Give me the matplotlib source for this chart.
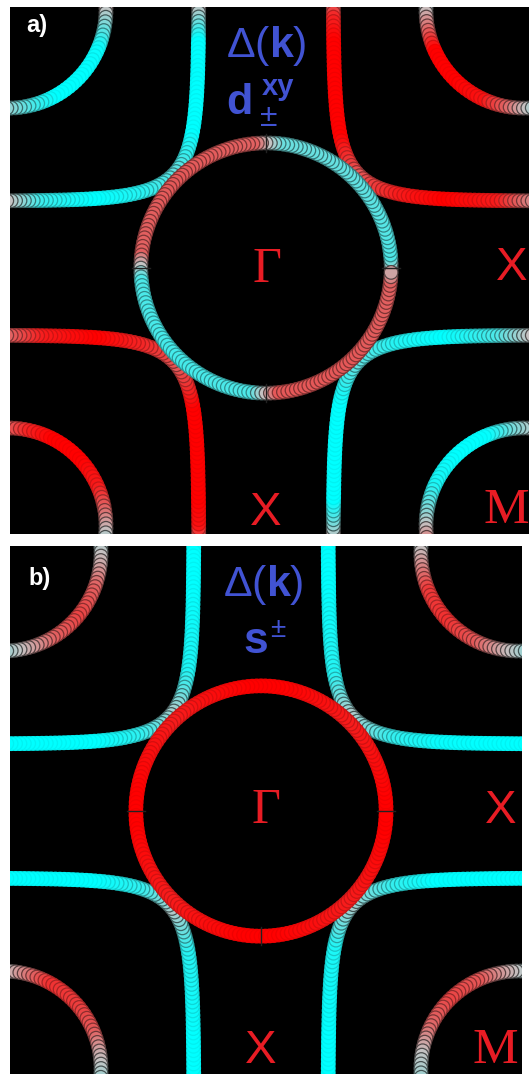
#!/usr/bin/env python3
# -*- coding: utf-8 -*-
"""
Fermi surface with gap sign Delta(k): a) d_xy +-  b) s +-
beads coloured cyan (<0) -> grey (0) -> red (>0)
"""

import numpy as np
import matplotlib
matplotlib.use('Agg')
import matplotlib.pyplot as plt
from matplotlib.colors import LinearSegmentedColormap

plt.rcParams['font.family'] = ['Liberation Sans', 'DejaVu Sans']
plt.rcParams['mathtext.fontset'] = 'custom'
plt.rcParams['mathtext.rm'] = 'Liberation Sans'
plt.rcParams['mathtext.bf'] = 'Liberation Sans:bold'

# ---- geometry, in units of half the zone ----
CIRCLE_R = 0.485
CROSS_X0 = 0.26
CROSS_W = 0.145
ARC_R = 0.38

# ---- gap values read along each sheet ----
# circle around Gamma, by angle (deg, counter clockwise from +x)
CIRCLE_ANG = [0, 6, 45, 84, 90, 96, 135, 174, 180, 186, 225, 264, 270, 276, 315, 354, 360]
A_CIRCLE_GAP = [0, -0.6, -0.5, -0.45, 0, 0.5, 0.55, 0.5, 0, -0.6, -0.65, -0.6, 0, 0.55, 0.55, 0.5, 0]
B_CIRCLE_GAP = [1, 1, 0.85, 1, 1, 1, 0.85, 1, 1, 1, 0.85, 1, 1, 1, 0.85, 1, 1]

# cross sheets: from the vertical arm end (0) to the horizontal arm end (1)
CROSS_POS = [0, 0.05, 0.12, 0.38, 0.5, 0.62, 0.75, 0.9, 1.0]
A_CROSS_TL = [0.3, -0.2, -1, -1, -0.5, -0.8, -1, -0.7, 0.1]
A_CROSS_TR = [0.25, 0.8, 1, 1, 0.55, 0.85, 1, 0.85, 0.25]
A_CROSS_BL = [0.3, 0.9, 1, 1, 0.55, 0.8, 1, 0.85, 0.45]
A_CROSS_BR = [0.35, -0.3, -1, -1, -0.5, -0.8, -1, -0.6, 0.1]
B_CROSS_TL = [-1, -1, -1, -0.85, -0.15, -0.75, -1, -1, -1]
B_CROSS_TR = [-1, -1, -1, -0.8, -0.1, -0.7, -0.95, -1, -1]
B_CROSS_BL = [-1, -1, -1, -0.8, -0.1, -0.75, -1, -1, -1]
B_CROSS_BR = [-1, -1, -1, -0.85, -0.15, -0.7, -1, -1, -1]

# corner pockets around M: from the top/bottom end or left/right end
ARC_POS = [0, 0.15, 0.3, 0.5, 0.7, 0.85, 1.0]
A_ARC_TL = [0.3, -0.3, -0.95, -1, -1, -0.6, -0.2]
A_ARC_TR = [-0.25, 0.35, 1, 1, 0.9, 0.45, -0.2]
A_ARC_BL = [0.4, 0.8, 1, 1, 0.85, 0.4, -0.15]
A_ARC_BR = [0.1, -0.4, -1, -1, -0.85, -0.3, 0.35]
B_ARC_TL = [-0.2, 0.1, 0.5, 0.65, 0.5, 0.15, -0.2]
B_ARC_TR = [-0.2, 0.25, 0.7, 0.75, 0.55, 0.15, -0.25]
B_ARC_BL = [-0.1, 0.35, 0.75, 0.7, 0.55, 0.1, -0.2]
B_ARC_BR = [-0.2, 0.15, 0.55, 0.65, 0.45, 0.0, -0.2]

RED = '#e81c24'
BLUE = '#4153d3'

cmap = LinearSegmentedColormap.from_list(
    'gap', [(0, '#00ffff'), (0.5, '#c4c4c4'), (1, '#ff0000')])


def resample(x, y, xlim, ylim, step=0.017):
    """keep the visible part and put points at even spacing"""
    m = 0.03
    keep = (x > xlim[0] - m) & (x < xlim[1] + m) & (y > ylim[0] - m) & (y < ylim[1] + m)
    x, y = x[keep], y[keep]
    s = np.concatenate([[0], np.cumsum(np.hypot(np.diff(x), np.diff(y)))])
    n = int(s[-1] / step) + 1
    si = np.linspace(0, s[-1], n)
    return np.interp(si, s, x), np.interp(si, s, y), si / s[-1]


def draw_beads(ax, x, y, g, z=2):
    face = cmap((np.asarray(g) + 1) / 2)
    fac = 0.4 + 0.55 * np.abs(g) ** 2
    edge = face.copy()
    edge[:, :3] = face[:, :3] * fac[:, None]
    ax.scatter(x, y, s=96, c=face, edgecolors=edge, linewidths=0.9, zorder=z)


def cross_sheet(ax, sx, sy, gaps, xlim, ylim):
    u = np.linspace(12, -12, 6000)
    a = CROSS_W * np.log1p(np.exp(-u))
    b = CROSS_W * np.log1p(np.exp(u))
    x = sx * (CROSS_X0 + a)
    y = sy * (CROSS_X0 + b)
    x, y, f = resample(x, y, xlim, ylim)
    draw_beads(ax, x, y, np.interp(f, CROSS_POS, gaps))


def corner_arc(ax, cx, cy, t0, t1, gaps, xlim, ylim):
    ext = 10 if t1 > t0 else -10
    t = np.radians(np.linspace(t0 - ext, t1 + ext, 2000))
    x = cx + ARC_R * np.cos(t)
    y = cy + ARC_R * np.sin(t)
    x, y, f = resample(x, y, xlim, ylim)
    draw_beads(ax, x, y, np.interp(f, ARC_POS, gaps))


def gamma_circle(ax, gaps, notches):
    th = np.arange(0, 360, 2.0)
    x = CIRCLE_R * np.cos(np.radians(th))
    y = CIRCLE_R * np.sin(np.radians(th))
    draw_beads(ax, x, y, np.interp(th, CIRCLE_ANG, gaps), z=3)
    for ang in notches:
        c, s = np.cos(np.radians(ang)), np.sin(np.radians(ang))
        ax.plot([(CIRCLE_R - 0.035) * c, (CIRCLE_R + 0.035) * c],
                [(CIRCLE_R - 0.035) * s, (CIRCLE_R + 0.035) * s],
                color='#222222', lw=1.0, zorder=4)


def make_panel(fig, rect, xlim, ylim, cross, arcs, circ, notches):
    ax = fig.add_axes(rect)
    ax.set_facecolor('black')
    ax.set_xlim(xlim)
    ax.set_ylim(ylim)
    ax.set_xticks([])
    ax.set_yticks([])
    for sp in ax.spines.values():
        sp.set_visible(False)

    # pockets at the zone corners
    corner_arc(ax, -1, 1, 0, -90, arcs[0], xlim, ylim)
    corner_arc(ax, 1, 1, 180, 270, arcs[1], xlim, ylim)
    corner_arc(ax, -1, -1, 90, 0, arcs[2], xlim, ylim)
    corner_arc(ax, 1, -1, 90, 180, arcs[3], xlim, ylim)
    # quasi 1D sheets
    cross_sheet(ax, -1, 1, cross[0], xlim, ylim)
    cross_sheet(ax, 1, 1, cross[1], xlim, ylim)
    cross_sheet(ax, -1, -1, cross[2], xlim, ylim)
    cross_sheet(ax, 1, -1, cross[3], xlim, ylim)
    # pocket at Gamma
    gamma_circle(ax, circ, notches)
    return ax


def main():
    fig = plt.figure(figsize=(5.29, 10.74), dpi=100, facecolor='white')
    kw = dict(ha='center', va='center', zorder=6)

    # ===== a) d_xy =====
    xa, ya = (-0.992, 1.019), (-1.031, 1.012)
    ax1 = make_panel(fig, [10 / 529, 540 / 1074, 519 / 529, 527 / 1074], xa, ya,
                     [A_CROSS_TL, A_CROSS_TR, A_CROSS_BL, A_CROSS_BR],
                     [A_ARC_TL, A_ARC_TR, A_ARC_BL, A_ARC_BR],
                     A_CIRCLE_GAP, [0, 90, 180, 270])
    ax1.text(-0.89, 0.94, 'a)', color='white', fontsize=17, fontweight='bold', **kw)
    ax1.text(0.0, 0.86, r'$\Delta(\mathbf{k})$', color=BLUE, fontsize=31, **kw)
    ax1.text(-0.105, 0.64, 'd', color=BLUE, fontsize=31, fontweight='bold', **kw)
    ax1.text(0.045, 0.70, 'xy', color=BLUE, fontsize=21, fontweight='bold', **kw)
    ax1.text(0.012, 0.58, '±', color=BLUE, fontsize=23, **kw)
    ax1.text(0.005, -0.005, 'Γ', color=RED, fontsize=36, family='Liberation Serif', **kw)
    ax1.text(0.95, 0.0, 'X', color=RED, fontsize=34, **kw)
    ax1.text(0.0, -0.95, 'X', color=RED, fontsize=34, **kw)
    ax1.text(0.93, -0.94, 'M', color=RED, fontsize=37, family='Liberation Serif', **kw)

    # ===== b) s+- =====
    xb, yb = (-0.973, 1.012), (-1.019, 1.027)
    ax2 = make_panel(fig, [10 / 529, 0, 512 / 529, 528 / 1074], xb, yb,
                     [B_CROSS_TL, B_CROSS_TR, B_CROSS_BL, B_CROSS_BR],
                     [B_ARC_TL, B_ARC_TR, B_ARC_BL, B_ARC_BR],
                     B_CIRCLE_GAP, [0, 180, 270])
    ax2.text(-0.86, 0.90, 'b)', color='white', fontsize=17, fontweight='bold', **kw)
    ax2.text(0.008, 0.876, r'$\Delta(\mathbf{k})$', color=BLUE, fontsize=31, **kw)
    ax2.text(-0.02, 0.655, 's', color=BLUE, fontsize=32, fontweight='bold', **kw)
    ax2.text(0.065, 0.70, '±', color=BLUE, fontsize=20, **kw)
    ax2.text(0.02, 0.0, 'Γ', color=RED, fontsize=36, family='Liberation Serif', **kw)
    ax2.text(0.93, 0.0, 'X', color=RED, fontsize=34, **kw)
    ax2.text(0.0, -0.93, 'X', color=RED, fontsize=34, **kw)
    ax2.text(0.91, -0.93, 'M', color=RED, fontsize=37, family='Liberation Serif', **kw)

    fig.savefig('out.png', dpi=100, facecolor='white')


if __name__ == "__main__":
    main()
